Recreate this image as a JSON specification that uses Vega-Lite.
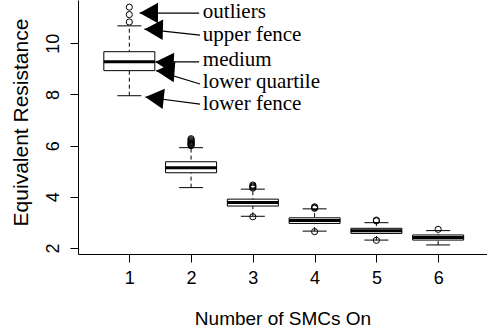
{
  "$schema": "https://vega.github.io/schema/vega-lite/v6.json",
  "width": 409,
  "height": 254,
  "autosize": {"type": "none"},
  "padding": {"left": 78, "top": 0, "right": 0, "bottom": 80},
  "background": "white",
  "config": {
    "view": {"stroke": null},
    "axis": {
      "grid": false,
      "domainColor": "black",
      "tickColor": "black",
      "labelColor": "black",
      "titleColor": "black",
      "labelFont": "Liberation Sans",
      "titleFont": "Liberation Sans",
      "titleFontWeight": "normal",
      "domainWidth": 1,
      "tickWidth": 1
    }
  },
  "datasets": {
    "boxes": [
      {"n": 1, "lower": 7.95, "q1": 8.93, "median": 9.28, "q3": 9.67, "upper": 10.68},
      {"n": 2, "lower": 4.36, "q1": 4.94, "median": 5.14, "q3": 5.37, "upper": 5.92},
      {"n": 3, "lower": 3.24, "q1": 3.64, "median": 3.78, "q3": 3.91, "upper": 4.30},
      {"n": 4, "lower": 2.66, "q1": 2.96, "median": 3.07, "q3": 3.18, "upper": 3.53},
      {"n": 5, "lower": 2.31, "q1": 2.57, "median": 2.67, "q3": 2.77, "upper": 2.99},
      {"n": 6, "lower": 2.12, "q1": 2.31, "median": 2.41, "q3": 2.51, "upper": 2.68}
    ],
    "outliers": [
      {"n": 1, "v": 10.83}, {"n": 1, "v": 11.12}, {"n": 1, "v": 11.41},
      {"n": 2, "v": 6.00}, {"n": 2, "v": 6.03}, {"n": 2, "v": 6.06}, {"n": 2, "v": 6.09},
      {"n": 2, "v": 6.12}, {"n": 2, "v": 6.15}, {"n": 2, "v": 6.19}, {"n": 2, "v": 6.23}, {"n": 2, "v": 6.27},
      {"n": 3, "v": 4.34}, {"n": 3, "v": 4.38}, {"n": 3, "v": 4.42}, {"n": 3, "v": 4.46}, {"n": 3, "v": 3.22},
      {"n": 4, "v": 3.55}, {"n": 4, "v": 3.58}, {"n": 4, "v": 3.61}, {"n": 4, "v": 2.64},
      {"n": 5, "v": 3.06}, {"n": 5, "v": 3.09}, {"n": 5, "v": 2.30},
      {"n": 6, "v": 2.73}
    ],
    "notes": [
      {"label": "outliers", "tx": 2.19, "ty": 11.22, "ax": 1.166, "ay": 11.18, "bx": 2.13, "by": 11.18},
      {"label": "upper fence", "tx": 2.19, "ty": 10.32, "ax": 1.245, "ay": 10.55, "bx": 2.145, "by": 10.32},
      {"label": "medium", "tx": 2.19, "ty": 9.34, "ax": 1.42, "ay": 9.27, "bx": 2.13, "by": 9.27},
      {"label": "lower quartile", "tx": 2.19, "ty": 8.48, "ax": 1.434, "ay": 8.93, "bx": 2.145, "by": 8.41},
      {"label": "lower fence", "tx": 2.19, "ty": 7.62, "ax": 1.26, "ay": 7.90, "bx": 2.145, "by": 7.625}
    ]
  },
  "layer": [
    {
      "data": {"name": "boxes"},
      "mark": {"type": "rule", "color": "black", "strokeWidth": 1, "strokeDash": [4, 3]},
      "encoding": {
        "x": {"field": "n", "type": "quantitative",
          "scale": {"domain": [0.25, 6.71], "nice": false, "zero": false},
          "axis": {"values": [1, 2, 3, 4, 5, 6], "format": "d", "title": "Number of SMCs On", "labelFontSize": 18,
                   "tickSize": 8, "labelPadding": 7, "titleFontSize": 19, "titleY": 64, "titleBaseline": "middle"}},
        "y": {"field": "lower", "type": "quantitative",
          "scale": {"domain": [1.766, 11.69], "nice": false, "zero": false},
          "axis": {"values": [2, 4, 6, 8, 10], "title": "Equivalent Resistance", "labelFontSize": 18,
                   "labelAngle": -90, "labelAlign": "center", "labelBaseline": "alphabetic",
                   "tickSize": 8, "labelPadding": 12, "titleFontSize": 21,
                   "titleX": -57, "titleY": 122, "titleAngle": -90, "titleAlign": "center", "titleBaseline": "middle"}},
        "y2": {"field": "upper"}
      }
    },
    {
      "data": {"name": "boxes"},
      "mark": {"type": "tick", "orient": "horizontal", "color": "black", "size": 24, "thickness": 1, "opacity": 1},
      "encoding": {
        "x": {"field": "n", "type": "quantitative"},
        "y": {"field": "upper", "type": "quantitative"}
      }
    },
    {
      "data": {"name": "boxes"},
      "mark": {"type": "tick", "orient": "horizontal", "color": "black", "size": 24, "thickness": 1, "opacity": 1},
      "encoding": {
        "x": {"field": "n", "type": "quantitative"},
        "y": {"field": "lower", "type": "quantitative"}
      }
    },
    {
      "data": {"name": "boxes"},
      "mark": {"type": "bar", "fill": "white", "stroke": "black", "strokeWidth": 1, "size": 51, "orient": "vertical", "opacity": 1},
      "encoding": {
        "x": {"field": "n", "type": "quantitative"},
        "y": {"field": "q1", "type": "quantitative"},
        "y2": {"field": "q3"}
      }
    },
    {
      "data": {"name": "boxes"},
      "mark": {"type": "tick", "orient": "horizontal", "color": "black", "size": 51, "thickness": 3, "opacity": 1},
      "encoding": {
        "x": {"field": "n", "type": "quantitative"},
        "y": {"field": "median", "type": "quantitative"}
      }
    },
    {
      "data": {"name": "outliers"},
      "mark": {"type": "point", "shape": "circle", "filled": false, "stroke": "black", "strokeWidth": 1, "size": 38, "opacity": 1},
      "encoding": {
        "x": {"field": "n", "type": "quantitative"},
        "y": {"field": "v", "type": "quantitative"}
      }
    },
    {
      "data": {"name": "notes"},
      "mark": {"type": "rule", "color": "black", "strokeWidth": 1.2},
      "encoding": {
        "x": {"field": "ax", "type": "quantitative"},
        "y": {"field": "ay", "type": "quantitative"},
        "x2": {"field": "bx"},
        "y2": {"field": "by"}
      }
    },
    {
      "data": {"name": "notes"},
      "mark": {"type": "point", "shape": "M0,0 L1.8,-1 L1.8,1 Z", "filled": true, "fill": "black", "strokeWidth": 0, "size": 420, "opacity": 1},
      "encoding": {
        "x": {"field": "ax", "type": "quantitative"},
        "y": {"field": "ay", "type": "quantitative"},
        "angle": {"field": "label", "type": "nominal",
          "scale": {"domain": ["outliers", "upper fence", "medium", "lower quartile", "lower fence"], "range": [0, 6, 0, 18, 7]},
          "legend": null}
      }
    },
    {
      "data": {"name": "notes"},
      "mark": {"type": "text", "align": "left", "baseline": "middle", "font": "Liberation Serif", "fontSize": 21, "color": "black"},
      "encoding": {
        "x": {"field": "tx", "type": "quantitative"},
        "y": {"field": "ty", "type": "quantitative"},
        "text": {"field": "label"}
      }
    }
  ]
}
